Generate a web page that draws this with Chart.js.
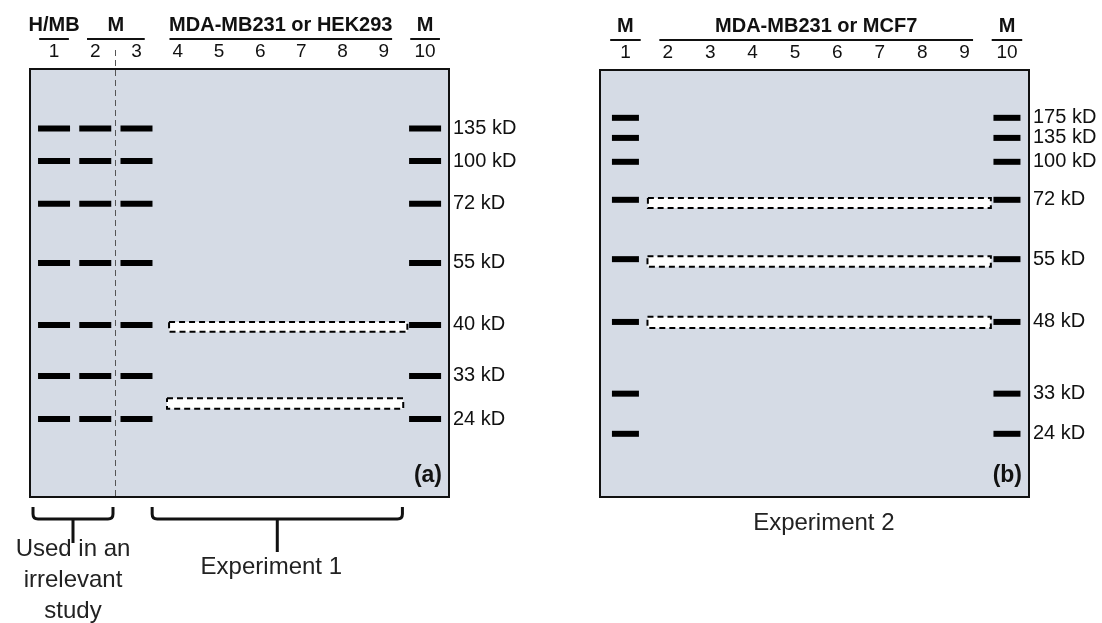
<!DOCTYPE html>
<html><head><meta charset="utf-8">
<script src="https://cdn.jsdelivr.net/npm/chart.js@4.4.1/dist/chart.umd.min.js"></script>
<style>
html,body{margin:0;padding:0;background:#fff;width:1102px;height:623px;overflow:hidden}
canvas{position:absolute;top:0}
#ca{left:0}#cb{left:551px}
</style></head><body>
<canvas id="ca" width="551" height="623"></canvas>
<canvas id="cb" width="551" height="623"></canvas>
<script>
// ---------- Panel (a): Experiment 1 ----------
const lanesA = [1, 2, 3, 4, 5, 6, 7, 8, 9, 10];
const groupLabelsA = ['H/MB', 'M', 'MDA-MB231 or HEK293', 'M'];
const groupLanesA = [[1, 1], [2, 3], [4, 9], [10, 10]];
const markerLanesA = [1, 2, 3, 10];
const markerKdA = [135, 100, 72, 55, 40, 33, 24];
const markerMigrationA = [13.9, 21.5, 31.5, 45.3, 59.8, 71.7, 81.8]; // % of gel length
const expectedLanesA = [[3.79, 9.57], [3.74, 9.47]];
const expectedMigrationA = [[59.1, 61.4], [76.9, 79.4]];

// ---------- Panel (b): Experiment 2 ----------
const lanesB = [1, 2, 3, 4, 5, 6, 7, 8, 9, 10];
const groupLabelsB = ['M', 'MDA-MB231 or MCF7', 'M'];
const groupLanesB = [[1, 1], [2, 9], [10, 10]];
const markerLanesB = [1, 10];
const markerKdB = [175, 135, 100, 72, 55, 48, 33, 24];
const markerMigrationB = [11.2, 15.9, 21.5, 30.4, 44.3, 59.0, 75.8, 85.2];
const expectedLanesB = [[1.53, 9.62], [1.52, 9.62], [1.52, 9.62]];
const expectedMigrationB = [[30.0, 32.3], [43.6, 46.1], [57.8, 60.4]];

const FONT = '"Liberation Sans", Arial, sans-serif';

const gelDecor = {
  id: 'gelDecor',
  beforeDraw(chart, args, o) {
    const {ctx, chartArea: a} = chart;
    ctx.save();
    ctx.fillStyle = '#d5dbe5';
    ctx.fillRect(a.left, a.top, a.right - a.left, a.bottom - a.top);
    ctx.restore();
  },
  afterDraw(chart, args, o) {
    const {ctx, chartArea: a} = chart;
    const xs = chart.scales.x;
    ctx.save();
    // divider
    if (o.divider != null) {
      const x = Math.round(xs.getPixelForValue(o.divider)) + 0.5;
      ctx.strokeStyle = '#555'; ctx.lineWidth = 1; ctx.setLineDash([6, 4]);
      ctx.beginPath(); ctx.moveTo(x, a.top - 19); ctx.lineTo(x, a.bottom + 2); ctx.stroke();
      ctx.setLineDash([]);
    }
    // gel border
    ctx.strokeStyle = '#111'; ctx.lineWidth = 2;
    ctx.strokeRect(a.left, a.top, a.right - a.left, a.bottom - a.top);
    // group headers
    ctx.fillStyle = '#111'; ctx.textAlign = 'center'; ctx.textBaseline = 'middle';
    ctx.font = 'bold 20px ' + FONT;
    o.groupLabels.forEach((lab, i) => {
      const [s, e] = o.groupLanes[i];
      const pad = s === e ? 0.36 : 0.2;
      const x1 = xs.getPixelForValue(s - pad), x2 = xs.getPixelForValue(e + pad);
      ctx.fillText(lab, (x1 + x2) / 2, a.top - 44);
      ctx.lineWidth = 2; ctx.beginPath();
      ctx.moveTo(x1, a.top - 30); ctx.lineTo(x2, a.top - 30); ctx.stroke();
    });
    // brackets
    ctx.lineWidth = 3; ctx.lineJoin = 'round';
    (o.brackets || []).forEach(b => {
      const x1 = xs.getPixelForValue(b[0]), x2 = xs.getPixelForValue(b[1]), xm = (x1 + x2) / 2;
      const y0 = a.bottom + 10, y1 = a.bottom + 22;
      ctx.beginPath();
      ctx.moveTo(x1, y0); ctx.lineTo(x1, y1 - 5); ctx.quadraticCurveTo(x1, y1, x1 + 5, y1);
      ctx.lineTo(x2 - 5, y1); ctx.quadraticCurveTo(x2, y1, x2, y1 - 5); ctx.lineTo(x2, y0);
      ctx.moveTo(xm, y1); ctx.lineTo(xm, a.bottom + b[2]);
      ctx.stroke();
    });
    // notes
    ctx.font = '24px ' + FONT; ctx.fillStyle = '#222';
    (o.notes || []).forEach(n => {
      const x = xs.getPixelForValue(n.x);
      n.lines.forEach((t, k) => ctx.fillText(t, x, a.bottom + n.dy + k * n.lh));
    });
    // panel label
    ctx.font = 'bold 23px ' + FONT; ctx.fillStyle = '#111'; ctx.textAlign = 'right';
    ctx.fillText(o.panel, a.right - 7, a.bottom - 21);
    ctx.restore();
  }
};

function makeGel(id, p) {
  const bandData = [];
  p.markerLanes.forEach(l => p.migration.forEach(m => bandData.push({x: l, y: m})));
  const datasets = [{
    label: 'Marker / sample bands', data: bandData, showLine: false,
    pointStyle: 'line', pointRadius: p.bandHalf, pointHoverRadius: p.bandHalf,
    borderColor: '#000', borderWidth: 6, backgroundColor: '#000'
  }];
  p.expLanes.forEach((r, i) => {
    const [y1, y2] = p.expMig[i];
    datasets.push({
      label: 'Expected band ' + (i + 1),
      data: [{x: r[0], y: y1}, {x: r[1], y: y1}, {x: r[1], y: y2}, {x: r[0], y: y2}, {x: r[0], y: y1}],
      showLine: true, fill: 'shape', backgroundColor: '#ffffff', borderColor: '#000',
      borderWidth: 2, borderDash: [6, 4], pointRadius: 0, tension: 0
    });
  });
  return new Chart(document.getElementById(id), {
    type: 'scatter',
    data: {datasets},
    plugins: [gelDecor],
    options: {
      responsive: false, animation: false, devicePixelRatio: 1,
      layout: {padding: p.padding},
      plugins: {legend: {display: false}, tooltip: {enabled: false},
        gelDecor: {groupLabels: p.groupLabels, groupLanes: p.groupLanes, divider: p.divider,
          brackets: p.brackets, notes: p.notes, panel: p.panel}},
      scales: {
        x: {type: 'linear', position: 'top', min: p.xmin, max: p.xmax,
          grid: {display: false, drawTicks: false}, border: {display: false},
          afterBuildTicks: s => { s.ticks = p.lanes.map(v => ({value: v})); },
          afterFit: s => { s.height = 30; },
          ticks: {autoSkip: false, maxRotation: 0, padding: 6, color: '#111',
            font: {family: FONT, size: 19}, callback: v => String(v)}},
        y: {type: 'linear', position: 'right', reverse: true, min: 0, max: 100,
          grid: {display: false, drawTicks: false}, border: {display: false},
          afterBuildTicks: s => { s.ticks = p.migration.map(v => ({value: v})); },
          afterFit: s => { s.width = p.axisW; },
          ticks: {autoSkip: false, padding: 4, color: '#111', crossAlign: 'near',
            font: {family: FONT, size: 20}, callback: (v, i) => p.kd[i] + ' kD'}}
      }
    }
  });
}

makeGel('ca', {
  lanes: lanesA, groupLabels: groupLabelsA, groupLanes: groupLanesA,
  markerLanes: markerLanesA, migration: markerMigrationA, kd: markerKdA,
  expLanes: expectedLanesA, expMig: expectedMigrationA,
  xmin: 0.417, xmax: 10.58, bandHalf: 16, divider: 2.48, panel: '(a)',
  axisW: 90, padding: {left: 30, top: 39, right: 12, bottom: 126},
  brackets: [[0.49, 2.43, 46], [3.38, 9.45, 55]],
  notes: [{x: 1.46, dy: 52, lh: 31, lines: ['Used in an', 'irrelevant', 'study']},
          {x: 6.27, dy: 70, lh: 0, lines: ['Experiment 1']}]
});

makeGel('cb', {
  lanes: lanesB, groupLabels: groupLabelsB, groupLanes: groupLanesB,
  markerLanes: markerLanesB, migration: markerMigrationB, kd: markerKdB,
  expLanes: expectedLanesB, expMig: expectedMigrationB,
  xmin: 0.40, xmax: 10.52, bandHalf: 13.5, divider: null, panel: '(b)',
  axisW: 73, padding: {left: 49, top: 40, right: 0, bottom: 126},
  brackets: [],
  notes: [{x: 5.68, dy: 26, lh: 0, lines: ['Experiment 2']}]
});
</script>
</body></html>
